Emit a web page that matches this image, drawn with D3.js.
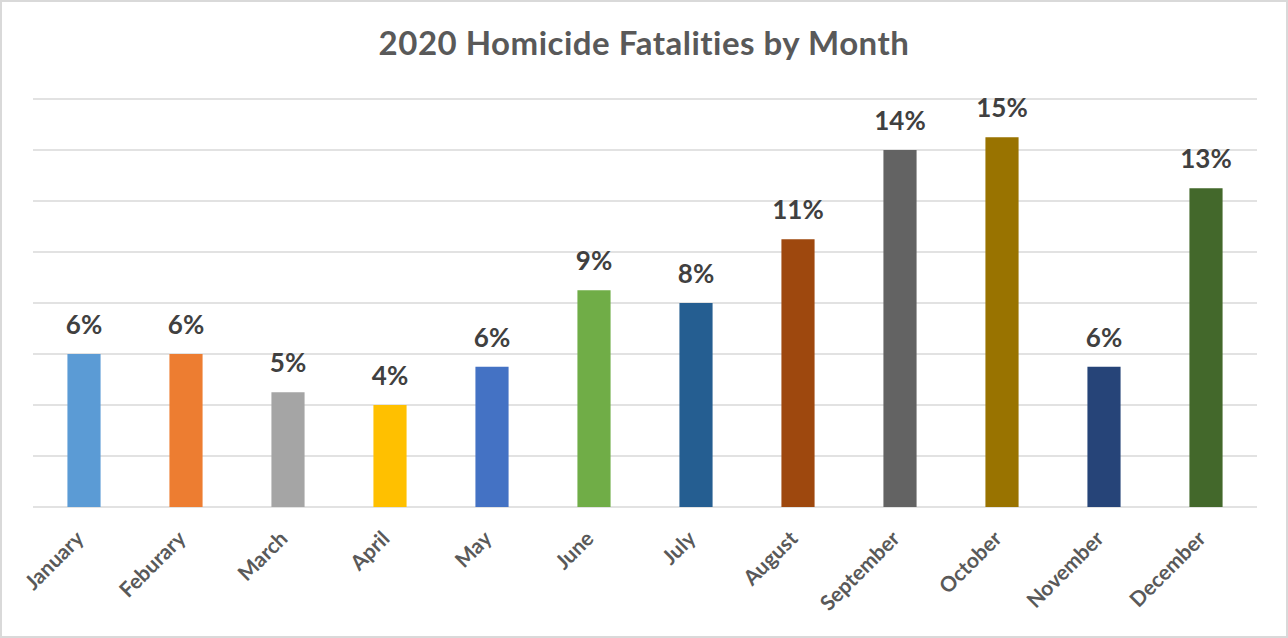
<!DOCTYPE html>
<html><head><meta charset="utf-8">
<script src="https://cdn.jsdelivr.net/npm/d3@7"></script>
<style>html,body{margin:0;padding:0;background:#fff;}</style>
</head><body>
<svg id="c" width="1288" height="638"></svg>
<script>
const months = ["January","Feburary","March","April","May","June","July","August","September","October","November","December"];
const values = [6, 6, 4.5, 4, 5.5, 8.5, 8, 10.5, 14, 14.5, 5.5, 12.5];
const valueLabels = ["6%","6%","5%","4%","6%","9%","8%","11%","14%","15%","6%","13%"];
const colors = ["#5B9BD5","#ED7D31","#A5A5A5","#FFC000","#4472C4","#70AD47","#255E91","#9E480E","#636363","#997300","#264478","#43682B"];
const yTicks = [0,2,4,6,8,10,12,14,16];
const title = "2020 Homicide Fatalities by Month";

const svg = d3.select("#c");
svg.append("rect").attr("x",1).attr("y",1).attr("width",1286).attr("height",636)
  .attr("fill","#fff").attr("stroke","#d9d9d9").attr("stroke-width",2);

const pLeft=33, pRight=1257, pTop=99, pBottom=507;
const x = d3.scaleBand().domain(months).range([pLeft,pRight]).paddingInner(0.675).paddingOuter(0.3375);
const y = d3.scaleLinear().domain([0,16]).range([pBottom,pTop]);

svg.append("g").selectAll("line").data(yTicks).join("line")
  .attr("x1",pLeft).attr("x2",pRight).attr("y1",d=>y(d)).attr("y2",d=>y(d))
  .attr("stroke","#d9d9d9").attr("stroke-width",1.6);

svg.append("g").selectAll("rect").data(values).join("rect")
  .attr("x",(d,i)=>x(months[i])).attr("width",x.bandwidth())
  .attr("y",d=>y(d)).attr("height",d=>pBottom-y(d))
  .attr("fill",(d,i)=>colors[i]);

svg.append("g").selectAll("text").data(values).join("text")
  .attr("x",(d,i)=>x(months[i])+x.bandwidth()/2).attr("y",d=>y(d)-20)
  .attr("text-anchor","middle").attr("font-family","Lato, 'Open Sans', sans-serif")
  .attr("font-weight","bold").attr("font-size",26).attr("fill","#404040")
  .text((d,i)=>valueLabels[i]);

svg.append("g").selectAll("text").data(months).join("text")
  .attr("transform",d=>`translate(${x(d)+x.bandwidth()/2+1},${pBottom+33}) rotate(-45)`)
  .attr("text-anchor","end").attr("font-family","Lato, 'Open Sans', sans-serif")
  .attr("font-weight","bold").attr("font-size",21).attr("fill","#595959")
  .text(d=>d);

svg.append("text").attr("x",644).attr("y",55).attr("text-anchor","middle")
  .attr("font-family","Lato, 'Open Sans', sans-serif").attr("font-weight","bold")
  .attr("font-size",33).attr("letter-spacing",0.5).attr("fill","#595959").text(title);
</script>
</body></html>
